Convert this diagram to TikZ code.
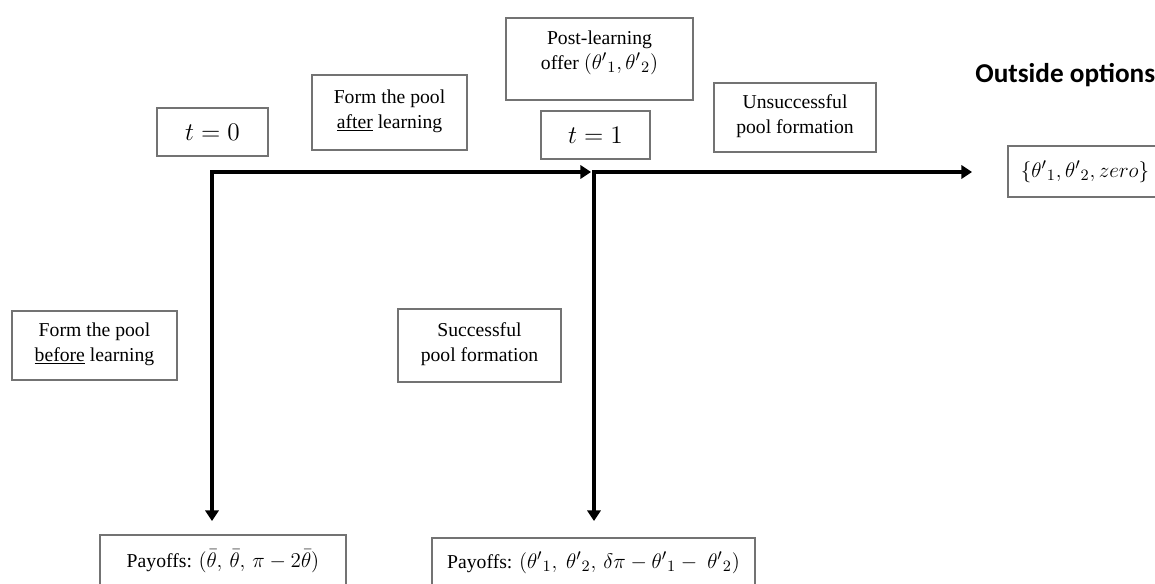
\documentclass[tikz,border=0pt]{standalone}
\usepackage{fontspec}
\setmainfont{Liberation Serif}
\newfontfamily\calfont{Carlito}
\usetikzlibrary{arrows.meta}
\newcommand{\mth}[1]{{\fontsize{12.3}{14}\selectfont$#1$}}
\begin{document}
\begin{tikzpicture}[x=0.02cm,y=-0.02cm,
  bx/.style={draw=black!55,line width=0.8pt,align=center,inner sep=0pt,
    font=\fontsize{11.2}{14.2}\selectfont},
  txt/.style={align=center,inner sep=0pt,font=\fontsize{11.2}{14.2}\selectfont},
  tl2/.style={line width=2.8pt,{Triangle[length=6pt,width=7.5pt]}-{Triangle[length=6pt,width=7.5pt]}}]
\clip (0,0) rectangle (1155,584);
\fill[white] (0,0) rectangle (1155,584);
% boxes
\node[bx,minimum width=111*0.02cm,minimum height=48*0.02cm,font=\fontsize{15.8}{18}\selectfont] (t0) at (212.5,132) {$t=0$};
\node[bx,minimum width=109*0.02cm,minimum height=48*0.02cm,font=\fontsize{15.8}{18}\selectfont] (t1) at (595.5,135) {$t=1$};
\node[bx,minimum width=155*0.02cm,minimum height=75*0.02cm] (after) at (389.5,112.5) {};
\node[txt] (aftertxt) at (389.5,111) {Form the pool\\\underline{after} learning};
\node[bx,minimum width=187*0.02cm,minimum height=82*0.02cm] (post) at (599.5,59) {};
\node[txt] (posttxt) at (599.5,52.5) {Post-learning\\offer \mth{({\theta'}_1,{\theta'}_2)}};
\node[bx,minimum width=162*0.02cm,minimum height=69*0.02cm] (unsucc) at (795,117.5) {};
\node[txt] (unsucctxt) at (795,116) {Unsuccessful\\pool formation};
\node[bx,minimum width=154*0.02cm,minimum height=51*0.02cm] (outbox) at (1085,171.5) {\mth{\{{\theta'}_1,{\theta'}_2,zero\}}};
\node[anchor=west,inner sep=0pt,font=\calfont\bfseries\fontsize{15.5}{18}\selectfont] (outlbl) at (975,75) {Outside options};
\node[bx,minimum width=165*0.02cm,minimum height=69*0.02cm] (before) at (94.5,345.5) {};
\node[txt] (beforetxt) at (94.5,344) {Form the pool\\\underline{before} learning};
\node[bx,minimum width=163*0.02cm,minimum height=73*0.02cm] (succ) at (479.5,345.5) {};
\node[txt] (succtxt) at (479.5,344) {Successful\\pool formation};
\node[bx,minimum width=246*0.02cm,minimum height=52*0.02cm] (pay0) at (223,561) {Payoffs: \mth{(\bar\theta,\,\bar\theta,\,\pi-2\bar\theta)}};
\node[bx,minimum width=323*0.02cm,minimum height=50*0.02cm] (pay1) at (593.5,563) {Payoffs: \mth{({\theta'}_1,\ {\theta'}_2,\,\delta\pi-{\theta'}_1-\ {\theta'}_2)}};
% connectors
\coordinate (c0) at (212,172);
\coordinate (c1) at (594,172);
\coordinate (a1) at (591,172);
\coordinate (b0) at (212,521);
\coordinate (b1) at (594,521);
\coordinate (e1) at (972,172);
\draw[tl2] (b0) -- (c0) -- (a1);
\draw[tl2] (b1) -- (c1) -- (e1);
\end{tikzpicture}
\end{document}
